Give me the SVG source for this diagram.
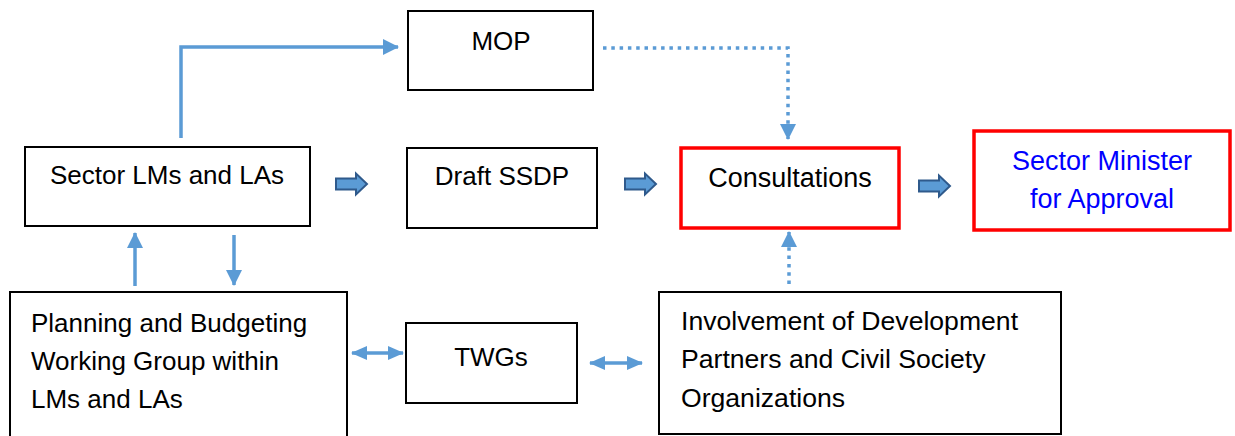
<svg xmlns="http://www.w3.org/2000/svg" width="1235" height="436" viewBox="0 0 1235 436">
<style>
.box{fill:#fff;stroke:#000;stroke-width:2}
.rbox{fill:#fff;stroke:#ff0000;stroke-width:3.5}
text{font-family:"Liberation Sans",Arial,sans-serif;font-size:26px;fill:#000}
.c{text-anchor:middle}
.big{font-size:27px}
.mid{font-size:26.6px}
.blue{fill:#0000ff}
.ln{fill:none;stroke:#5b9bd5;stroke-width:3.5}
.dot{fill:none;stroke:#5b9bd5;stroke-width:3.5;stroke-dasharray:3.5 4.8}
.blk{fill:#5b9bd5;stroke:#2f5a8c;stroke-width:2;stroke-linejoin:miter}
</style>
<defs>
<marker id="ah" markerUnits="userSpaceOnUse" markerWidth="16" markerHeight="16" viewBox="0 0 16 16" refX="15" refY="8" orient="auto-start-reverse">
<path d="M0,0 L16,8 L0,16 Z" fill="#5b9bd5"/>
</marker>
<marker id="ah2" markerUnits="userSpaceOnUse" markerWidth="16" markerHeight="16" viewBox="0 0 16 16" refX="15" refY="8" orient="auto-start-reverse">
<path d="M0,1 L16,8 L0,15 Z" fill="#5b9bd5"/>
</marker>
<path id="blockArrow" class="blk" d="M0,-5.5 L20,-5.5 L20,-10.5 L31,0 L20,10.5 L20,5.5 L0,5.5 Z"/>
</defs>

<g id="connectors">
<path class="ln" d="M181,138 L181,47 L398,47" marker-end="url(#ah)"/>
<path class="dot" d="M603,48 L788,48 L788,139" marker-end="url(#ah)"/>
<path class="dot" d="M789,284 L789,232" marker-end="url(#ah)"/>
<path class="ln" d="M135,286 L135,233" marker-end="url(#ah)"/>
<path class="ln" d="M234,235 L234,285" marker-end="url(#ah)"/>
<path class="ln" d="M352,353 L403,353" marker-start="url(#ah2)" marker-end="url(#ah2)"/>
<path class="ln" d="M590,363 L642,363" marker-start="url(#ah2)" marker-end="url(#ah2)"/>
<use href="#blockArrow" x="336" y="184"/>
<use href="#blockArrow" x="625" y="184"/>
<use href="#blockArrow" x="919" y="186"/>
</g>

<g id="mop">
<rect class="box" x="408" y="11" width="185" height="79"/>
<text class="c" x="501" y="50">MOP</text>
</g>

<g id="sector-lms">
<rect class="box" x="25" y="147" width="285" height="79"/>
<text class="c" x="167" y="184">Sector LMs and LAs</text>
</g>

<g id="draft-ssdp">
<rect class="box" x="407" y="148" width="190" height="80"/>
<text class="c" x="502" y="185">Draft SSDP</text>
</g>

<g id="consultations">
<rect class="rbox" x="681" y="148" width="218" height="80"/>
<text class="c big" x="790" y="187">Consultations</text>
</g>

<g id="sector-minister">
<rect class="rbox" x="974" y="131" width="256" height="99"/>
<text class="c blue big" x="1102" y="170">Sector Minister</text>
<text class="c blue big" x="1102" y="208">for Approval</text>
</g>

<g id="planning">
<rect class="box" x="10" y="292" width="337" height="150"/>
<text x="31" y="332">Planning and Budgeting</text>
<text x="31" y="370">Working Group within</text>
<text x="31" y="408">LMs and LAs</text>
</g>

<g id="twgs">
<rect class="box" x="406" y="323" width="171" height="80"/>
<text class="c" x="491" y="366">TWGs</text>
</g>

<g id="involvement">
<rect class="box" x="659" y="292" width="402" height="142"/>
<text class="mid" x="681" y="330">Involvement of Development</text>
<text class="mid" x="681" y="368">Partners and Civil Society</text>
<text class="mid" x="681" y="407">Organizations</text>
</g>
</svg>
